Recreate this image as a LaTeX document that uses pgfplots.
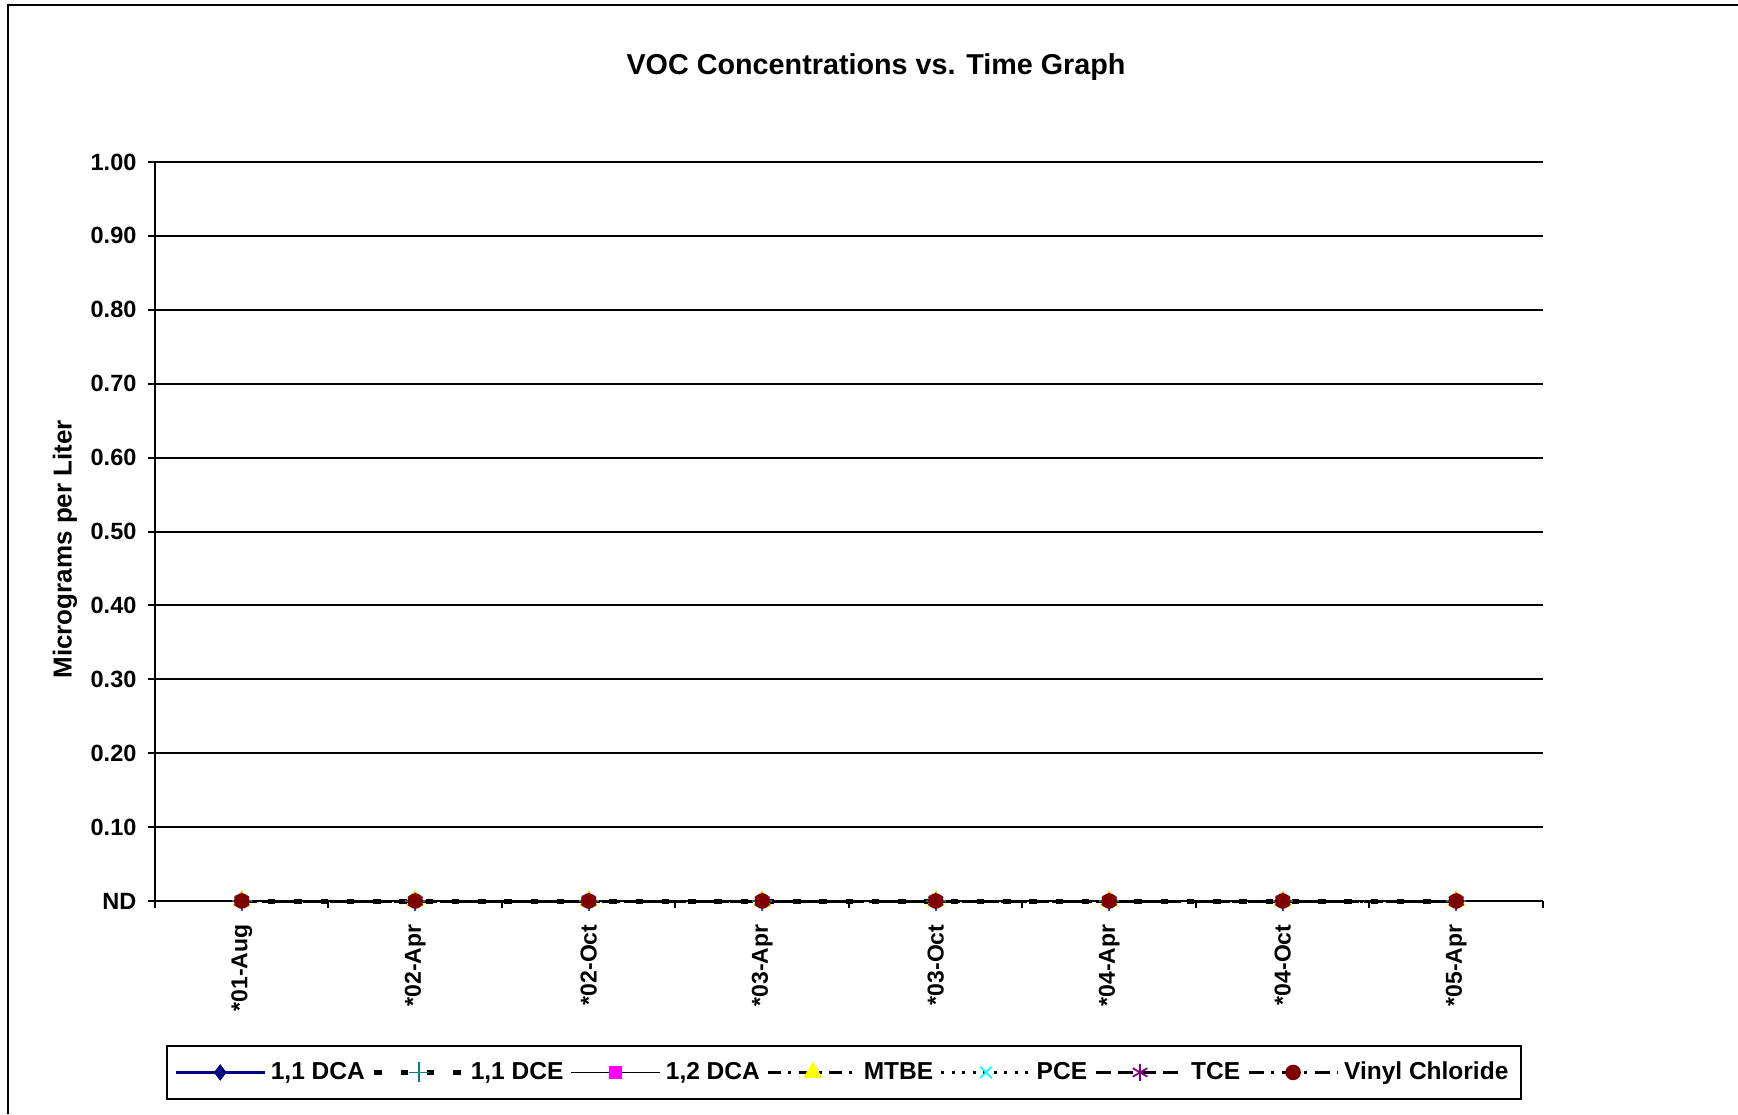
\documentclass[border=0pt]{standalone}
\usepackage{fontspec}
\setmainfont{Liberation Sans}
\usepackage{pgfplots}
\pgfplotsset{compat=1.18}
\definecolor{cNavy}{RGB}{0,0,128}
\definecolor{cTeal}{RGB}{0,128,128}
\definecolor{cMag}{RGB}{255,0,255}
\definecolor{cYel}{RGB}{255,255,0}
\definecolor{cCyan}{RGB}{0,255,255}
\definecolor{cPurp}{RGB}{128,0,128}
\definecolor{cDRed}{RGB}{128,0,0}
\begin{document}
\begin{tikzpicture}
\path[use as bounding box] (0pt,0pt) rectangle (695.2pt,445.6pt);
\draw[line width=1pt] (3.2pt,0pt) -- (3.2pt,443.6pt) -- (695.2pt,443.6pt);
\begin{axis}[
  at={(62pt,85.2pt)}, anchor=south west,
  scale only axis, width=555.2pt, height=295.6pt,
  xmin=-0.5, xmax=7.5, ymin=0, ymax=1,
  clip=false,
  axis x line*=bottom, axis y line*=left,
  axis line style={line width=0.8pt, -, black},
  xtick={0,1,2,3,4,5,6,7},
  xticklabels={*01-Aug,*02-Apr,*02-Oct,*03-Apr,*03-Oct,*04-Apr,*04-Oct,*05-Apr},
  minor xtick={-0.5,0.5,1.5,2.5,3.5,4.5,5.5,6.5,7.5},
  major x tick style={draw=none},
  minor x tick style={draw=black, line width=0.8pt},
  ytick={0,0.1,0.2,0.3,0.4,0.5,0.6,0.7,0.8,0.9,1},
  yticklabels={ND,0.10,0.20,0.30,0.40,0.50,0.60,0.70,0.80,0.90,1.00},
  ymajorgrids, grid style={black, line width=0.8pt},
  tick align=outside, major tick length=2.8pt, minor tick length=2.8pt,
  major y tick style={draw=black, line width=0.8pt},
  yticklabel style={font=\bfseries\fontsize{9.4}{11}\selectfont, xshift=-1.1pt},
  xticklabel style={yshift=-3.1pt, font=\bfseries\fontsize{9.2}{11}\selectfont, rotate=90, anchor=east},
  ylabel={Micrograms per Liter},
  ylabel style={at={(axis description cs:-0.0648,0.476)}, anchor=center, font=\bfseries\fontsize{10.4}{12}\selectfont},
  title={VOC Concentrations vs. Time Graph},
  title style={at={(axis description cs:0.5195,1.108)}, anchor=center, font=\bfseries\fontsize{11.5}{13}\selectfont},
  legend columns=7,
  legend cell align=left,
  legend image code/.code={\draw[mark repeat=2,mark phase=2] plot coordinates {(0pt,0pt) (17.8pt,0pt) (35.6pt,0pt)};},
  legend style={at={(axis description cs:0.4964,-0.232)}, anchor=center, draw=black, line width=0.8pt,
    inner ysep=4.2pt,
    font=\bfseries\fontsize{9.8}{11}\selectfont,
    /tikz/every even column/.append style={column sep=0.8pt}},
]
\addplot[cNavy, line width=0.9pt, mark=diamond*, mark size=2.6pt, mark options={solid, fill=cNavy, draw=cNavy}]
  coordinates {(0,0) (1,0) (2,0) (3,0) (4,0) (5,0) (6,0) (7,0)};
\addlegendentry{1,1 DCA}
\addplot[black, line width=2pt, dash pattern=on 3pt off 7.5pt, mark=+, mark size=4pt, mark options={solid, draw=cTeal, line width=0.7pt}]
  coordinates {(0,0) (1,0) (2,0) (3,0) (4,0) (5,0) (6,0) (7,0)};
\addlegendentry{1,1 DCE}
\addplot[black, line width=0.6pt, mark=square*, mark size=2.2pt, mark options={solid, fill=cMag, draw=cMag}]
  coordinates {(0,0) (1,0) (2,0) (3,0) (4,0) (5,0) (6,0) (7,0)};
\addlegendentry{1,2 DCA}
\addplot[black, line width=1.2pt, dash pattern=on 5pt off 3pt on 1.2pt off 3pt, mark=triangle*, mark size=3.2pt, mark options={solid, fill=cYel, draw=cYel}]
  coordinates {(0,0) (1,0) (2,0) (3,0) (4,0) (5,0) (6,0) (7,0)};
\addlegendentry{MTBE}
\addplot[black, line width=1pt, dash pattern=on 1.2pt off 3pt, mark=x, mark size=3.2pt, mark options={solid, draw=cCyan, line width=0.7pt}]
  coordinates {(0,0) (1,0) (2,0) (3,0) (4,0) (5,0) (6,0) (7,0)};
\addlegendentry{PCE}
\addplot[black, line width=1.2pt, dash pattern=on 6pt off 3pt, mark=asterisk, mark size=3.4pt, mark options={solid, draw=cPurp, line width=0.7pt}]
  coordinates {(0,0) (1,0) (2,0) (3,0) (4,0) (5,0) (6,0) (7,0)};
\addlegendentry{TCE}
\addplot[black, line width=1.2pt, dash pattern=on 6pt off 3pt on 1.2pt off 3pt, mark=*, mark size=2.5pt, mark options={solid, fill=cDRed, draw=cDRed}]
  coordinates {(0,0) (1,0) (2,0) (3,0) (4,0) (5,0) (6,0) (7,0)};
\addlegendentry{Vinyl Chloride}
\end{axis}
\end{tikzpicture}
\end{document}
